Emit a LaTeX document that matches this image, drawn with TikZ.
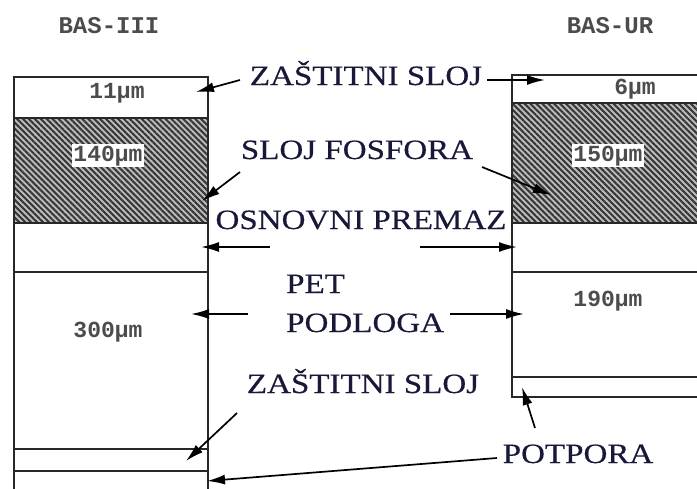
\documentclass[tikz,border=0pt]{standalone}
\usepackage{fontspec}
\setmainfont{Liberation Serif}[FakeStretch=1.18,FakeBold=0.4]
\setmonofont{Liberation Mono}
\usetikzlibrary{arrows.meta,patterns.meta}
\definecolor{lbl}{RGB}{24,24,56}
\definecolor{edge}{RGB}{40,40,40}
\tikzset{
  big/.style={font=\fontsize{28}{30}\selectfont, text=lbl, inner sep=0pt, anchor=base},
  small/.style={font=\ttfamily\bfseries\fontsize{23}{25}\selectfont, text=black!70, inner sep=1.5pt, anchor=base},
  title/.style={font=\ttfamily\bfseries\fontsize{24}{26}\selectfont, text=black!70, inner sep=0pt, anchor=base},
  layer/.style={draw=edge, line width=1.6pt},
  hatch/.style={draw=edge, line width=1.6pt, pattern={Lines[angle=-45,distance=4.2pt,line width=2.1pt]}, pattern color=black!78},
  arr/.style={draw=black, line width=1.7pt, -{Latex[length=18pt,width=10pt]}}
}
\begin{document}
\begin{tikzpicture}[x=1pt,y=-1pt]
\useasboundingbox (0,0) rectangle (697,488);
% left stack (BAS-III)
\fill[black!25] (14,118) rectangle (208,223);
\path[hatch] (14,118) rectangle (208,223);
\draw[layer] (14,492) -- (14,77) -- (208,77) -- (208,492);
\draw[layer] (14,118) -- (208,118);
\draw[layer] (14,223) -- (208,223);
\draw[layer] (14,272) -- (208,272);
\draw[layer] (14,449) -- (208,449);
\draw[layer] (14,471) -- (208,471);
% right stack (BAS-UR)
\fill[black!25] (512,103) rectangle (702,223);
\path[hatch] (512,103) rectangle (702,223);
\draw[layer] (702,75) -- (512,75) -- (512,397) -- (702,397);
\draw[layer] (512,103) -- (702,103);
\draw[layer] (512,223) -- (702,223);
\draw[layer] (512,272) -- (702,272);
\draw[layer] (512,377) -- (702,377);
% titles
\node[title] (t1) at (109,33) {BAS-III};
\node[title] (t2) at (610,33) {BAS-UR};
% thickness labels
\node[small] (n11) at (117,98) {11µm};
\node[small, fill=white] (n140) at (108,161) {140µm};
\node[small] (n300) at (108,337) {300µm};
\node[small] (n6) at (635,94) {6µm};
\node[small, fill=white] (n150) at (608,161) {150µm};
\node[small] (n190) at (608,306) {190µm};
% main labels
\node[big] (zs1) at (366,85) {ZAŠTITNI SLOJ};
\node[big] (sf) at (357,159) {SLOJ FOSFORA};
\node[big] (op) at (361,229) {OSNOVNI PREMAZ};
\node[big, anchor=base west] (pet) at (286,293) {PET};
\node[big, anchor=base west] (pod) at (286,332) {PODLOGA};
\node[big] (zs2) at (363,393) {ZAŠTITNI SLOJ};
\node[big] (pot) at (578,463) {POTPORA};
% arrow coordinates
\coordinate (a1s) at (240,80);  \coordinate (a1e) at (196,92);
\coordinate (a2s) at (487,80);  \coordinate (a2e) at (545,80);
\coordinate (a3s) at (240,172); \coordinate (a3e) at (202,201);
\coordinate (a4s) at (482,167); \coordinate (a4e) at (551,195);
\coordinate (a5s) at (270,247); \coordinate (a5e) at (201,247);
\coordinate (a6s) at (420,247); \coordinate (a6e) at (517,247);
\coordinate (a7s) at (248,314); \coordinate (a7e) at (191,314);
\coordinate (a8s) at (450,314); \coordinate (a8e) at (524,314);
\coordinate (a9s) at (237,413); \coordinate (a9e) at (186,461);
\coordinate (a10s) at (497,458); \coordinate (a10e) at (207,481);
\coordinate (a11s) at (535,428); \coordinate (a11e) at (522,387);
\draw[arr] (a1s) -- (a1e);
\draw[arr] (a2s) -- (a2e);
\draw[arr] (a3s) -- (a3e);
\draw[arr] (a4s) -- (a4e);
\draw[arr] (a5s) -- (a5e);
\draw[arr] (a6s) -- (a6e);
\draw[arr] (a7s) -- (a7e);
\draw[arr] (a8s) -- (a8e);
\draw[arr] (a9s) -- (a9e);
\draw[arr] (a10s) -- (a10e);
\draw[arr] (a11s) -- (a11e);
\end{tikzpicture}
\end{document}
